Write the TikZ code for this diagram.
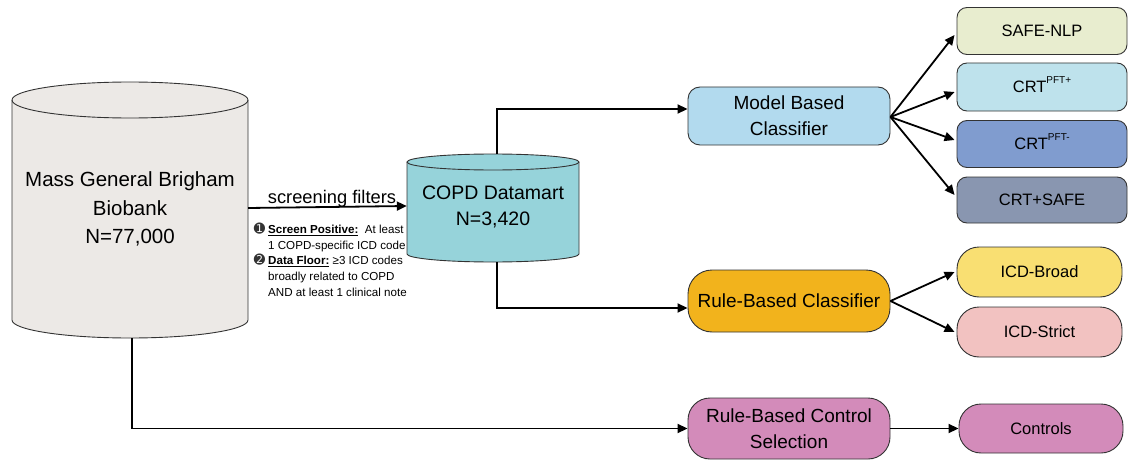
\documentclass[tikz,border=0pt]{standalone}
\usepackage{fontspec}
\setmainfont{Liberation Sans}
\newfontfamily\dejavu{DejaVu Sans}
\usetikzlibrary{arrows.meta}
\definecolor{edge}{HTML}{333333}
\definecolor{mgbfill}{HTML}{ECE9E6}
\definecolor{copdfill}{HTML}{96D3DA}
\definecolor{modelfill}{HTML}{B2DAEE}
\definecolor{rulefill}{HTML}{F2B31C}
\definecolor{ctrlfill}{HTML}{D38BBA}
\definecolor{safefill}{HTML}{E8EDCF}
\definecolor{crtpfill}{HTML}{BEE2EC}
\definecolor{crtmfill}{HTML}{809CCF}
\definecolor{crtsfill}{HTML}{8996B0}
\definecolor{icdbfill}{HTML}{F9DF72}
\definecolor{icdsfill}{HTML}{F2C2C1}
\begin{document}
\begin{tikzpicture}[x=1pt,y=1pt,
  cyl/.style={draw=edge, line width=0.9pt},
  rbox/.style={draw=edge, line width=0.9pt, align=center, inner sep=0pt, text=black},
  midfont/.style={font=\fontsize{19}{26}\selectfont},
  smallfont/.style={font=\fontsize{16.5}{20}\selectfont},
  arr/.style={line width=1.8pt, -{Triangle[length=10pt,width=9pt]}}
]
\useasboundingbox (0,0) rectangle (1133,-460);

% Mass General Brigham cylinder
\fill[mgbfill] (12,-100) -- (12,-320) arc[start angle=180,end angle=360,x radius=118,y radius=18] -- (248,-100) -- cycle;
\fill[mgbfill] (130,-100) ellipse[x radius=118,y radius=18];
\draw[cyl] (12,-100) -- (12,-320) arc[start angle=180,end angle=360,x radius=118,y radius=18] -- (248,-100);
\draw[cyl] (130,-100) ellipse[x radius=118,y radius=18];
\node[minimum width=236pt, inner sep=0pt, align=center, font=\fontsize{20.5}{28.5}\selectfont] (mgb) at (130,-209) {Mass General Brigham\\Biobank\\N=77,000};
\coordinate (mgbbot) at (132,-338);

% COPD Datamart cylinder
\fill[copdfill] (407,-162) -- (407,-254) arc[start angle=180,end angle=360,x radius=86,y radius=8] -- (579,-162) -- cycle;
\fill[copdfill] (493,-162) ellipse[x radius=86,y radius=8];
\draw[cyl] (407,-162) -- (407,-254) arc[start angle=180,end angle=360,x radius=86,y radius=8] -- (579,-162);
\draw[cyl] (493,-162) ellipse[x radius=86,y radius=8];
\node[minimum width=172pt, inner sep=0pt, align=center, font=\fontsize{19.5}{26}\selectfont] (copd) at (493,-207) {COPD Datamart\\N=3,420};
\coordinate (copdtop) at (497,-154);
\coordinate (copdbot) at (497,-262);

% screening label and notes
\node[anchor=base, font=\fontsize{18.3}{22}\selectfont, inner sep=0pt] (scr) at (332,-203) {screening filters};
\node[anchor=north west, align=left, inner sep=0pt, font=\fontsize{11.6}{15.8}\selectfont] (note) at (268,-222.5)
{\llap{{\dejavu\fontsize{13.5}{13.5}\selectfont\color{edge}➊}\hspace{3pt}}\underline{\textbf{Screen Positive:}}\ \ At least\\
1 COPD-specific ICD code\\
\llap{{\dejavu\fontsize{13.5}{13.5}\selectfont\color{edge}➋}\hspace{3pt}}\underline{\textbf{Data Floor:}}\ ≥3 ICD codes\\
broadly related to COPD\\
AND at least 1 clinical note};

% middle boxes
\node[rbox, midfont, fill=modelfill, rounded corners=12pt, minimum width=202pt, minimum height=58pt] (model) at (789,-116) {Model Based\\Classifier};
\node[rbox, midfont, fill=rulefill, rounded corners=24pt, minimum width=202pt, minimum height=62pt] (rule) at (789,-301) {Rule-Based Classifier};
\node[rbox, midfont, fill=ctrlfill, rounded corners=22pt, minimum width=202pt, minimum height=61pt] (csel) at (789,-428.5) {Rule-Based Control\\Selection};

% right boxes
\node[rbox, smallfont, fill=safefill, rounded corners=10pt, minimum width=170pt, minimum height=47pt] (safe) at (1042,-31) {SAFE-NLP};
\node[rbox, smallfont, fill=crtpfill, rounded corners=10pt, minimum width=170pt, minimum height=48pt] (crtp) at (1042,-87) {CRT\smash{\raisebox{9pt}{\fontsize{10}{10}\selectfont PFT+}}};
\node[rbox, smallfont, fill=crtmfill, rounded corners=10pt, minimum width=170pt, minimum height=47pt] (crtm) at (1042,-144) {CRT\smash{\raisebox{9pt}{\fontsize{10}{10}\selectfont PFT-}}};
\node[rbox, smallfont, fill=crtsfill, rounded corners=10pt, minimum width=170pt, minimum height=46pt] (crts) at (1042,-200) {CRT+SAFE};
\node[rbox, smallfont, fill=icdbfill, rounded corners=22pt, minimum width=165pt, minimum height=50pt] (icdb) at (1039.5,-272) {ICD-Broad};
\node[rbox, smallfont, fill=icdsfill, rounded corners=22pt, minimum width=165pt, minimum height=50pt] (icds) at (1039.5,-332) {ICD-Strict};
\node[rbox, smallfont, fill=ctrlfill, rounded corners=22pt, minimum width=164pt, minimum height=49pt] (ctrl) at (1041,-428.5) {Controls};

% connectors
\draw[arr] ([yshift=1pt]mgb.east) -- ([yshift=1pt]copd.west);
\draw[arr] (copdtop) |- ([yshift=7pt]model.west);
\draw[arr] (copdbot) |- ([yshift=-7pt]rule.west);
\draw[arr] (mgbbot) |- (csel.west);
\draw[arr] ([yshift=-1pt]model.east) -- ([xshift=-2pt,yshift=-4pt]safe.west);
\draw[arr] ([yshift=-1pt]model.east) -- ([xshift=-2pt,yshift=-5pt]crtp.west);
\draw[arr] ([yshift=-1pt]model.east) -- ([xshift=-2pt,yshift=4pt]crtm.west);
\draw[arr] ([yshift=-1pt]model.east) -- ([xshift=-2pt,yshift=5pt]crts.west);
\draw[arr] (rule.east) -- ([xshift=-2pt]icdb.west);
\draw[arr] (rule.east) -- ([xshift=-2pt]icds.west);
\draw[arr] (csel.east) -- (csel.east -| ctrl.west);
\end{tikzpicture}
\end{document}
